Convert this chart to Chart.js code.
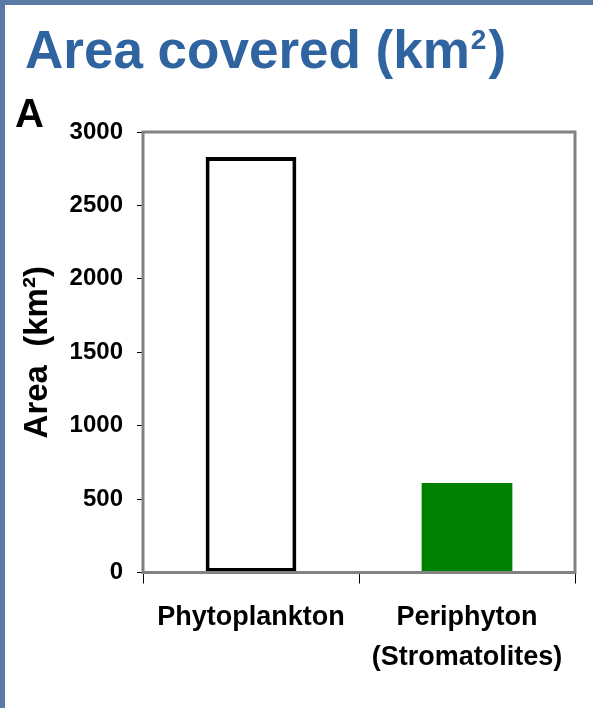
<!DOCTYPE html>
<html>
<head>
<meta charset="utf-8">
<script src="https://cdn.jsdelivr.net/npm/chart.js@4.4.1/dist/chart.umd.min.js"></script>
<style>
  html, body { margin: 0; padding: 0; overflow: hidden; }
  body { width: 593px; height: 708px; background: #5a7aa6; position: relative; font-family: "Liberation Sans", Arial, sans-serif; }
  .panel { position: absolute; left: 5px; top: 5px; right: 0; bottom: 0; background: #fff; }
  .title { position: absolute; left: 25px; top: 23px; font-size: 53px; line-height: 53px; font-weight: bold; color: #2f64a0; white-space: nowrap; }
  .title .sup { font-size: 28px; position: relative; top: -19px; margin-left: 1px; margin-right: 2px; }
  .tag { position: absolute; left: 15px; top: 93px; font-size: 40px; line-height: 40px; font-weight: bold; color: #000; }
  .wrap { position: absolute; left: 0; top: 0; width: 593px; height: 708px; }
</style>
</head>
<body>
<div class="panel"></div>
<div class="wrap"><canvas id="areaChart"></canvas></div>
<div class="title">Area covered (km<span class="sup">2</span>)</div>
<div class="tag">A</div>
<script>
const categories = ["Phytoplankton", ["Periphyton", "(Stromatolites)"]];
const areaValues = [2830, 610];
const barFills = ["#ffffff", "#008000"];
const barBorders = [4, 0];
const yTicks = [0, 500, 1000, 1500, 2000, 2500, 3000];
const yTitle = "Area  (km²)";

const FONT = '"Liberation Sans", Arial, sans-serif';

// gray frame around the plot area
const frame = {
  id: 'frame',
  afterDatasetsDraw(chart) {
    const a = chart.chartArea;
    const ctx = chart.ctx;
    ctx.save();
    ctx.strokeStyle = '#828282';
    ctx.lineWidth = 3;
    ctx.strokeRect(a.left, a.top, a.right - a.left, a.bottom - a.top);
    ctx.restore();
  }
};

const ctx = document.getElementById("areaChart").getContext("2d");
new Chart(ctx, {
  type: 'bar',
  data: {
    labels: categories,
    datasets: [{
      data: areaValues,
      backgroundColor: barFills,
      borderColor: '#000',
      borderWidth: barBorders,
      borderSkipped: false,
      barPercentage: 0.42,
      categoryPercentage: 1
    }]
  },
  options: {
    responsive: true,
    maintainAspectRatio: false,
    animation: false,
    layout: { padding: { left: 5, top: 132, right: 18, bottom: 0 } },
    plugins: {
      legend: { display: false },
      tooltip: { enabled: false },
      title: { display: false }
    },
    scales: {
      x: {
        afterFit: s => { s.height = 135.5; },
        grid: { drawOnChartArea: false, tickLength: 11, tickColor: '#000', tickWidth: 1 },
        border: { display: false },
        ticks: {
          color: '#000',
          padding: 14,
          maxRotation: 0,
          font: { family: FONT, size: 27, weight: 'bold', lineHeight: 1.48 }
        }
      },
      y: {
        min: 0,
        max: 3000,
        afterFit: s => { s.width = 138; },
        afterBuildTicks: s => { s.ticks = yTicks.map(v => ({ value: v })); },
        grid: { drawOnChartArea: false, tickLength: 6, tickColor: '#000', tickWidth: 1 },
        border: { display: false },
        ticks: {
          color: '#000',
          padding: 14,
          callback: v => String(v),
          font: { family: FONT, size: 24, weight: 'bold' }
        },
        title: {
          display: true,
          text: yTitle,
          color: '#000',
          padding: { top: 13, bottom: 0 },
          font: { family: FONT, size: 33, weight: 'bold' }
        }
      }
    }
  },
  plugins: [frame]
});
</script>
</body>
</html>
